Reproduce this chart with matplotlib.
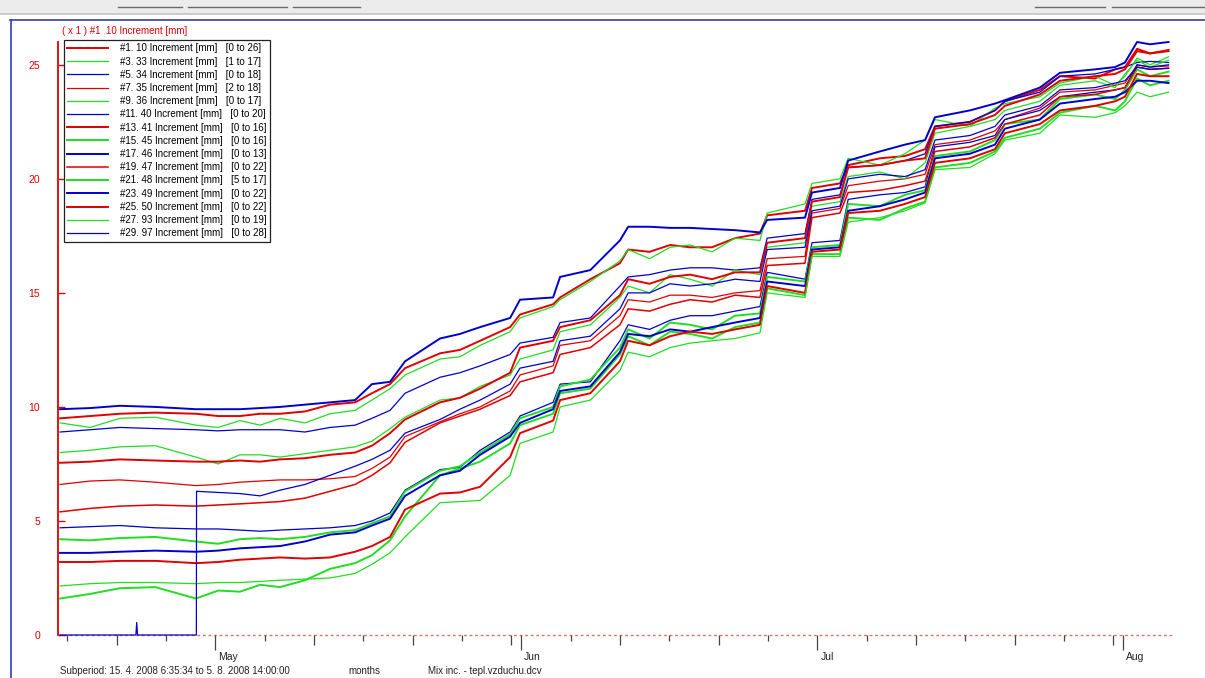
import matplotlib
matplotlib.use("Agg")
import matplotlib.pyplot as plt
import matplotlib.dates as mdates
from matplotlib.lines import Line2D
from matplotlib.patches import Rectangle
from matplotlib.transforms import ScaledTranslation
import pandas as pd

plt.rcParams['font.family'] = ['Liberation Sans Narrow', 'Liberation Sans', 'DejaVu Sans']

# ---------------- data ----------------
dates = ["2008-04-15 06:35", "2008-04-18 07:30", "2008-04-21 08:00", "2008-04-24 22:00",
         "2008-04-29 01:00", "2008-05-01 07:00", "2008-05-03 12:00", "2008-05-05 13:00",
         "2008-05-07 13:30", "2008-05-10 02:00", "2008-05-12 15:00", "2008-05-15 04:00",
         "2008-05-16 21:00", "2008-05-18 17:00", "2008-05-20 05:30", "2008-05-23 18:30",
         "2008-05-25 19:00", "2008-05-27 20:00", "2008-05-30 21:00", "2008-05-31 21:00",
         "2008-06-04 05:30", "2008-06-04 22:30", "2008-06-08 00:00", "2008-06-11 00:00",
         "2008-06-11 20:00", "2008-06-14 00:00", "2008-06-16 02:00", "2008-06-18 02:30",
         "2008-06-20 08:00", "2008-06-22 16:00", "2008-06-25 04:30", "2008-06-25 22:00",
         "2008-06-29 18:00", "2008-06-30 11:00", "2008-07-03 07:00", "2008-07-04 03:00",
         "2008-07-07 08:00", "2008-07-09 21:00", "2008-07-11 22:00", "2008-07-12 22:00",
         "2008-07-16 11:00", "2008-07-19 00:00", "2008-07-20 00:00", "2008-07-23 13:00",
         "2008-07-25 14:00", "2008-07-29 03:00", "2008-07-31 04:00", "2008-08-01 04:00",
         "2008-08-02 09:30", "2008-08-03 17:00", "2008-08-05 14:00"]

s01 = [9.5, 9.6, 9.7, 9.75, 9.7, 9.6, 9.6, 9.7, 9.7, 9.8, 10.1, 10.2, 10.6, 11.0, 11.7, 12.35, 12.5,
       12.9, 13.5, 14.05, 14.5, 14.8, 15.6, 16.3, 16.9, 16.8, 17.1, 17.0, 17.0, 17.4, 17.6, 18.4, 18.6,
       19.6, 19.8, 20.6, 20.9, 21.0, 21.3, 22.3, 22.5, 23.0, 23.4, 23.9, 24.5, 24.4, 24.8, 24.9, 25.7,
       25.5, 25.65]
s03 = [9.3, 9.1, 9.5, 9.55, 9.2, 9.1, 9.4, 9.2, 9.5, 9.3, 9.7, 9.85, 10.3, 10.8, 11.4, 12.1, 12.2,
       12.7, 13.3, 13.9, 14.4, 14.7, 15.5, 16.4, 16.9, 16.5, 17.0, 17.1, 16.8, 17.4, 17.3, 18.5, 18.9,
       19.8, 20.0, 20.9, 20.6, 21.1, 21.7, 22.6, 22.3, 23.1, 23.3, 23.6, 24.2, 24.5, 24.1, 24.5, 25.3,
       25.0, 25.35]
s05 = [8.9, 9.0, 9.1, 9.05, 9.0, 8.95, 9.0, 9.0, 9.0, 8.9, 9.1, 9.2, 9.5, 9.85, 10.6, 11.3, 11.5,
       11.8, 12.3, 12.8, 13.05, 13.7, 13.9, 15.3, 15.7, 15.8, 16.0, 16.1, 16.1, 16.0, 16.1, 17.4, 17.6,
       19.1, 19.3, 20.5, 20.6, 20.8, 21.1, 22.3, 22.5, 23.0, 23.4, 23.8, 24.5, 24.6, 24.8, 24.9, 25.1,
       25.15, 25.1]
s07 = [6.6, 6.75, 6.8, 6.7, 6.55, 6.6, 6.7, 6.75, 6.8, 6.8, 6.85, 6.95, 7.3, 7.8, 8.7, 9.35, 9.7,
       10.0, 10.7, 11.4, 11.8, 12.7, 12.9, 14.0, 14.7, 14.6, 14.9, 14.9, 14.8, 15.0, 15.1, 16.5, 16.6,
       18.5, 18.7, 19.7, 19.9, 20.0, 20.2, 21.5, 21.7, 22.1, 22.6, 23.1, 23.8, 23.9, 24.1, 24.2, 25.0,
       24.9, 24.95]
s09 = [8.0, 8.1, 8.25, 8.3, 7.8, 7.5, 7.9, 7.9, 7.8, 7.95, 8.1, 8.25, 8.5, 9.05, 9.55, 10.3, 10.4,
       10.9, 11.4, 12.1, 12.5, 13.3, 13.6, 14.8, 15.3, 15.0, 15.8, 15.6, 15.3, 16.0, 15.8, 17.0, 17.2,
       18.8, 19.0, 20.1, 20.3, 20.0, 20.7, 22.0, 22.3, 22.6, 23.0, 23.4, 24.1, 24.3, 24.0, 24.6, 25.2,
       24.9, 25.2]
s11 = [4.7, 4.75, 4.8, 4.7, 4.65, 4.65, 4.6, 4.55, 4.6, 4.65, 4.7, 4.8, 5.0, 5.35, 6.35, 7.25, 7.35,
       8.1, 8.9, 9.6, 10.2, 11.0, 11.1, 12.9, 13.6, 13.4, 13.8, 14.0, 14.0, 14.2, 14.4, 15.9, 15.6,
       17.2, 17.3, 19.1, 19.3, 19.4, 19.65, 21.4, 21.6, 21.9, 22.6, 23.0, 23.6, 23.8, 23.9, 24.0, 25.0,
       24.9, 25.0]
s13 = [7.55, 7.6, 7.7, 7.65, 7.6, 7.6, 7.65, 7.6, 7.7, 7.75, 7.9, 8.0, 8.3, 8.85, 9.45, 10.2, 10.4,
       10.8, 11.5, 12.6, 12.9, 13.5, 13.8, 14.9, 15.6, 15.4, 15.7, 15.8, 15.6, 15.9, 15.9, 17.2, 17.4,
       19.0, 19.2, 20.5, 20.6, 20.8, 20.9, 22.2, 22.4, 22.8, 23.2, 23.7, 24.3, 24.5, 24.6, 24.8, 25.6,
       25.5, 25.6]
s15 = [4.2, 4.15, 4.25, 4.3, 4.1, 4.0, 4.2, 4.25, 4.2, 4.3, 4.5, 4.6, 4.9, 5.2, 6.3, 7.2, 7.4,
       8.0, 8.8, 9.5, 10.0, 10.9, 11.2, 12.6, 13.4, 13.0, 13.7, 13.6, 13.4, 14.0, 14.1, 15.7, 15.5,
       17.0, 17.1, 18.9, 18.8, 19.3, 19.5, 21.0, 21.2, 21.7, 22.4, 22.6, 23.5, 23.7, 23.5, 23.9, 24.8,
       24.5, 24.7]
s17 = [9.9, 9.95, 10.05, 10.0, 9.9, 9.9, 9.9, 9.95, 10.0, 10.1, 10.2, 10.3, 11.0, 11.1, 12.0, 13.0,
       13.2, 13.5, 13.9, 14.7, 14.8, 15.7, 16.0, 17.3, 17.9, 17.9, 17.85, 17.85, 17.8, 17.75, 17.65,
       18.2, 18.3, 19.4, 19.6, 20.8, 21.2, 21.5, 21.7, 22.7, 23.0, 23.3, 23.45, 24.0, 24.65, 24.8,
       24.9, 25.1, 26.0, 25.9, 26.0]
s19 = [5.4, 5.55, 5.65, 5.7, 5.65, 5.7, 5.75, 5.8, 5.85, 6.0, 6.3, 6.6, 7.0, 7.55, 8.45, 9.3, 9.6,
       9.9, 10.5, 11.1, 11.5, 12.3, 12.6, 13.6, 14.3, 14.2, 14.5, 14.7, 14.6, 14.9, 14.8, 16.2, 16.3,
       18.3, 18.5, 19.4, 19.5, 19.7, 19.9, 21.2, 21.4, 21.8, 22.4, 22.8, 23.6, 23.7, 23.9, 24.0, 24.9,
       24.8, 24.85]
s21 = [1.6, 1.8, 2.05, 2.1, 1.6, 1.95, 1.9, 2.2, 2.1, 2.4, 2.9, 3.15, 3.5, 4.15, 5.2, 7.0, 7.3,
       7.6, 8.4, 9.2, 9.7, 10.6, 10.8, 12.3, 13.1, 12.7, 13.3, 13.2, 13.0, 13.5, 13.7, 15.2, 14.9,
       16.7, 16.7, 18.3, 18.2, 18.7, 19.0, 20.5, 20.7, 21.2, 21.8, 22.2, 22.9, 23.2, 23.0, 23.4, 24.4,
       24.1, 24.3]
s23 = [3.6, 3.6, 3.65, 3.7, 3.65, 3.7, 3.8, 3.85, 3.9, 4.1, 4.4, 4.5, 4.8, 5.1, 6.1, 7.0, 7.2,
       7.9, 8.7, 9.3, 9.9, 10.7, 10.9, 12.4, 13.2, 13.1, 13.4, 13.3, 13.5, 13.7, 13.9, 15.5, 15.3,
       16.9, 17.0, 18.6, 18.8, 19.1, 19.4, 20.9, 21.1, 21.5, 22.2, 22.6, 23.3, 23.5, 23.6, 23.8, 24.3,
       24.3, 24.2]
s25 = [3.2, 3.2, 3.25, 3.25, 3.15, 3.2, 3.3, 3.35, 3.4, 3.35, 3.4, 3.65, 3.9, 4.3, 5.5, 6.2, 6.25,
       6.5, 7.8, 8.85, 9.4, 10.3, 10.6, 12.0, 12.9, 12.7, 13.1, 13.3, 13.2, 13.4, 13.6, 15.3, 15.0,
       16.8, 16.9, 18.5, 18.6, 18.9, 19.2, 20.7, 20.9, 21.3, 22.0, 22.4, 23.0, 23.2, 23.4, 23.6, 24.6,
       24.5, 24.5]
s27 = [2.15, 2.25, 2.3, 2.3, 2.25, 2.3, 2.3, 2.35, 2.4, 2.45, 2.5, 2.7, 3.1, 3.6, 4.3, 5.8, 5.85,
       5.9, 7.0, 8.4, 8.9, 10.0, 10.3, 11.6, 12.4, 12.2, 12.6, 12.8, 12.9, 13.0, 13.25, 15.0, 14.8,
       16.6, 16.6, 18.1, 18.3, 18.6, 18.95, 20.4, 20.5, 21.1, 21.7, 22.0, 22.8, 22.7, 22.9, 23.2, 23.8,
       23.6, 23.8]

dates29 = ["2008-04-15 06:35", "2008-04-22 23:00", "2008-04-23 01:00", "2008-04-23 03:00",
           "2008-04-29 02:00", "2008-04-29 02:30"] + dates[6:]
s29 = [0.0, 0.0, 0.55, 0.0, 0.0, 6.3,
       6.2, 6.1, 6.35, 6.6, 7.0, 7.4, 7.7, 8.1, 8.85, 9.45, 9.9, 10.3, 11.0, 11.7, 12.0, 12.9, 13.1,
       14.3, 15.0, 15.0, 15.4, 15.3, 15.4, 15.6, 15.5, 16.9, 17.0, 18.6, 18.8, 20.0, 20.2, 20.1, 20.4,
       21.7, 21.9, 22.3, 22.8, 23.2, 23.9, 24.0, 24.2, 24.3, 24.9, 24.8, 24.85]

labels = ["#1. 10 Increment [mm]", "#3. 33 Increment [mm]", "#5. 34 Increment [mm]",
          "#7. 35 Increment [mm]", "#9. 36 Increment [mm]", "#11. 40 Increment [mm]",
          "#13. 41 Increment [mm]", "#15. 45 Increment [mm]", "#17. 46 Increment [mm]",
          "#19. 47 Increment [mm]", "#21. 48 Increment [mm]", "#23. 49 Increment [mm]",
          "#25. 50 Increment [mm]", "#27. 93 Increment [mm]", "#29. 97 Increment [mm]"]
ranges = ["[0 to 26]", "[1 to 17]", "[0 to 18]", "[2 to 18]", "[0 to 17]", "[0 to 20]",
          "[0 to 16]", "[0 to 16]", "[0 to 13]", "[0 to 22]", "[5 to 17]", "[0 to 22]",
          "[0 to 22]", "[0 to 19]", "[0 to 28]"]

y_ticks = [0, 5, 10, 15, 20, 25]

# ---------------- styles ----------------
RED, GREEN, BLUE = "#e00000", "#22dd22", "#0000cc"
series = [s01, s03, s05, s07, s09, s11, s13, s15, s17, s19, s21, s23, s25, s27]
colors = [RED, GREEN, BLUE] * 5
widths = [1.4, 0.9, 0.9, 0.9, 0.9, 0.9, 1.4, 1.4, 1.4, 1.1, 1.4, 1.4, 1.4, 0.9, 0.9]
for s in series:
    assert len(s) == len(dates)
assert len(s29) == len(dates29)

W, H = 1205, 678
fig = plt.figure(figsize=(W / 100, H / 100), dpi=100)


def fx(px):
    return px / W


def fy(py):
    return 1 - py / H


# window chrome
fig.patches.append(Rectangle((0, fy(14)), 1, fy(0) - fy(14), transform=fig.transFigure,
                             facecolor="#ececec", edgecolor="none", zorder=0))
fig.add_artist(Line2D([0, 1], [fy(14), fy(14)], color="#c4c4c4", lw=1.2))
for a, b in [(118, 182), (188, 287), (293, 360), (1035, 1105), (1112, 1205)]:
    fig.add_artist(Line2D([fx(a), fx(b)], [fy(7), fy(7)], color="#6a6a6a", lw=1.0))
fig.add_artist(Line2D([fx(10), 1], [fy(20), fy(20)], color="#3a3ab8", lw=1.2))
fig.add_artist(Line2D([fx(10.5), fx(10.5)], [fy(20), 0], color="#3a3ab8", lw=1.2))

ax = fig.add_axes([fx(58), fy(635), fx(1172) - fx(58), fy(42) - fy(635)])
start = pd.Timestamp("2008-04-15 06:35")
ax.set_xlim(start - pd.Timedelta(hours=5), start + pd.Timedelta(days=112.66))
ax.set_ylim(0, 26.0)

xd = pd.to_datetime(dates)
for s, c, w in zip(series, colors[:-1], widths[:-1]):
    ax.plot(xd, s, color=c, lw=w, clip_on=False, zorder=3)
ax.plot(pd.to_datetime(dates29), s29, color=colors[-1], lw=widths[-1], clip_on=False, zorder=3)

ax.axhline(0, color="#e07070", lw=1.0, ls=(0, (2, 2)), zorder=1, clip_on=False)

for sp in ["top", "right", "bottom"]:
    ax.spines[sp].set_visible(False)
ax.spines["left"].set_color(RED)
ax.spines["left"].set_linewidth(1.3)

ax.set_yticks(y_ticks)
ax.set_yticklabels([str(v) for v in y_ticks])
ax.tick_params(axis="y", direction="in", length=5, width=1.0, colors=RED, labelsize=7.5, pad=13)

# x ticks: month starts + every 5 days
tick_days, tick_len, tick_lab = [], [], []
for m in range(4, 9):
    for d in [1, 6, 11, 16, 21, 26, 31]:
        try:
            t = pd.Timestamp(2008, m, d)
        except ValueError:
            continue
        if t < start or t > start + pd.Timedelta(days=112.6):
            continue
        tick_days.append(t)
        if d == 1:
            tick_len.append(11)
            tick_lab.append(t.strftime("%b"))
        elif d in (11, 21, 31):
            tick_len.append(7)
            tick_lab.append("")
        else:
            tick_len.append(4)
            tick_lab.append("")
ax.set_xticks([mdates.date2num(t) for t in tick_days])
ax.set_xticklabels(tick_lab)
ax.tick_params(axis="x", direction="out", length=11, width=0.9, colors="#444444",
               labelcolor="#222222", labelsize=7.5, pad=1)
for tk, L in zip(ax.xaxis.get_major_ticks(), tick_len):
    tk.tick1line.set_markersize(L)
offset = ScaledTranslation(3 / 100, 0, fig.dpi_scale_trans)
for lbl in ax.get_xticklabels():
    lbl.set_ha("left")
    lbl.set_transform(lbl.get_transform() + offset)

# legend
handles = [Line2D([], [], color=c, lw=w) for c, w in zip(colors, widths)]
leg_labels = [f"{a}   {b}" for a, b in zip(labels, ranges)]
leg = ax.legend(handles, leg_labels, loc="upper left", bbox_to_anchor=(fx(64), fy(40)),
                bbox_transform=fig.transFigure, fontsize=7, frameon=True, fancybox=False,
                framealpha=1, edgecolor="#222222", borderpad=0.35, labelspacing=0.33,
                handlelength=4.2, handletextpad=1.2, borderaxespad=0)
leg.get_frame().set_linewidth(0.9)
leg.set_zorder(5)

fig.text(fx(62), fy(31), "( x 1 ) #1  10 Increment [mm]", color=RED, fontsize=7, va="center")
fig.text(fx(60), fy(671), "Subperiod: 15. 4. 2008 6:35:34 to 5. 8. 2008 14:00:00", fontsize=7,
         va="center", color="#222222")
fig.text(fx(348), fy(671), "months", fontsize=7, va="center", color="#222222")
fig.text(fx(428), fy(671), "Mix inc. - tepl.vzduchu.dcv", fontsize=7, va="center", color="#222222")

fig.savefig("out.png", dpi=100)
